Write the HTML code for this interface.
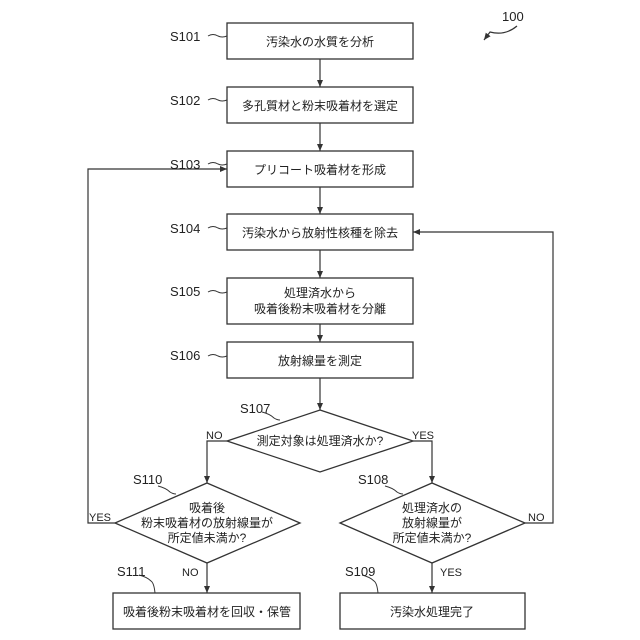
<!DOCTYPE html>
<html><head><meta charset="utf-8"><style>
html,body{margin:0;padding:0;background:#fff;}
svg{display:block;}
text{font-family:"Liberation Sans","Noto Sans CJK JP",sans-serif;fill:#222;}
.j{font-size:12px;}
.l{font-size:13px;}
</style></head><body>
<svg width="640" height="640" viewBox="0 0 640 640">
<defs><marker id="a" markerWidth="8" markerHeight="8" refX="7" refY="4" orient="auto" markerUnits="userSpaceOnUse"><path d="M0,1 L7,4 L0,7 z" fill="#333"/></marker></defs>
<g fill="none" stroke="#333" stroke-width="1.3">
<rect x="227" y="23" width="186" height="36"/>
<rect x="227" y="87" width="186" height="36"/>
<rect x="227" y="151" width="186" height="36"/>
<rect x="227" y="214" width="186" height="36"/>
<rect x="227" y="278" width="186" height="46"/>
<rect x="227" y="342" width="186" height="36"/>
<polygon points="320,410 413,441 320,472 227,441"/>
<polygon points="207,483 300,523 207,563 115,523"/>
<polygon points="432,483 525,523 432,563 340,523"/>
<rect x="113" y="593" width="187" height="36"/>
<rect x="340" y="593" width="185" height="36"/>
</g>
<g stroke="#333" stroke-width="1.2" fill="none" marker-end="url(#a)">
<line x1="320" y1="59" x2="320" y2="87"/>
<line x1="320" y1="123" x2="320" y2="151"/>
<line x1="320" y1="187" x2="320" y2="214"/>
<line x1="320" y1="250" x2="320" y2="278"/>
<line x1="320" y1="324" x2="320" y2="342"/>
<line x1="320" y1="378" x2="320" y2="410"/>
<polyline points="227,441 207,441 207,483"/>
<polyline points="413,441 432,441 432,483"/>
<line x1="207" y1="563" x2="207" y2="593"/>
<line x1="432" y1="563" x2="432" y2="593"/>
<polyline points="115,523 88,523 88,169 227,169"/>
<polyline points="525,523 553,523 553,232 413,232"/>
<path d="M517,26 Q505,36 490,32 L484,40"/>
</g>
<g stroke="#333" stroke-width="1" fill="none">
<path d="M208,36 q5,-3 10,0 q4,2 9,0"/>
<path d="M208,100 q5,-3 10,0 q4,2 9,0"/>
<path d="M208,164 q5,-3 10,0 q4,2 9,0"/>
<path d="M208,228 q5,-3 10,0 q4,2 9,0"/>
<path d="M208,292 q5,-3 10,0 q4,2 9,0"/>
<path d="M208,356 q5,-3 10,0 q4,2 9,0"/>
<path d="M262,412 q8,2 12,6 q3,2 6,2"/>
<path d="M158,486 q8,2 12,6 q3,2 6,2"/>
<path d="M385,486 q8,2 12,6 q3,2 6,2"/>
<path d="M139,575 q8,2 12,6 q3,2 4,12"/>
<path d="M362,575 q8,2 12,6 q3,2 4,12"/>
</g>
<g class="l">
<text x="170" y="41">S101</text>
<text x="170" y="105">S102</text>
<text x="170" y="169">S103</text>
<text x="170" y="233">S104</text>
<text x="170" y="296">S105</text>
<text x="170" y="360">S106</text>
<text x="240" y="413">S107</text>
<text x="133" y="484">S110</text>
<text x="358" y="484">S108</text>
<text x="117" y="576">S111</text>
<text x="345" y="576">S109</text>
<text x="502" y="21">100</text>
</g>
<g style="font-size:11px">
<text x="206" y="439">NO</text>
<text x="412" y="439">YES</text>
<text x="89" y="521">YES</text>
<text x="528" y="521">NO</text>
<text x="182" y="576">NO</text>
<text x="440" y="576">YES</text>
</g>
<g class="j" text-anchor="middle">
<text x="320" y="46">汚染水の水質を分析</text>
<text x="320" y="110">多孔質材と粉末吸着材を選定</text>
<text x="320" y="174">プリコート吸着材を形成</text>
<text x="320" y="237">汚染水から放射性核種を除去</text>
<text x="320" y="297">処理済水から</text>
<text x="320" y="313">吸着後粉末吸着材を分離</text>
<text x="320" y="365">放射線量を測定</text>
<text x="320" y="445">測定対象は処理済水か?</text>
<text x="207" y="512">吸着後</text>
<text x="207" y="527">粉末吸着材の放射線量が</text>
<text x="207" y="542">所定値未満か?</text>
<text x="432" y="512">処理済水の</text>
<text x="432" y="527">放射線量が</text>
<text x="432" y="542">所定値未満か?</text>
<text x="207" y="616">吸着後粉末吸着材を回収・保管</text>
<text x="432" y="616">汚染水処理完了</text>
</g>
</svg>
</body></html>
